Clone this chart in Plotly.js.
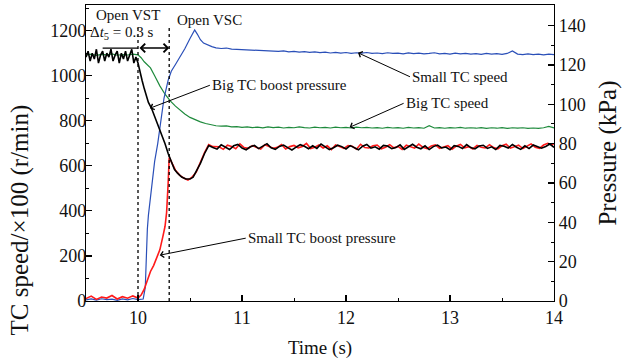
<!DOCTYPE html>
<html>
<head>
<meta charset="utf-8">
<script src="https://cdn.plot.ly/plotly-3.0.1.min.js"></script>
<style>html,body{margin:0;padding:0;background:#fff;}#chart{width:627px;height:364px;}</style>
</head>
<body>
<div id="chart"></div>
<script>
// [time (s), TC speed (x100 r/min)]
const smallTcSpeed = [
[9.5,5],[9.55,9],[9.6,4],[9.65,10],[9.7,6],[9.75,8],[9.8,3],[9.85,9],[9.9,5],[9.95,11],[10.0,6],[10.05,9],
[10.07,60],[10.08,250],[10.09,320],[10.1,380],[10.13,490],[10.16,620],[10.19,700],[10.22,800],[10.25,900],
[10.29,980],[10.32,1020],[10.36,1050],[10.4,1080],[10.45,1120],[10.5,1165],[10.545,1203],[10.57,1185],
[10.6,1160],[10.63,1145],[10.67,1136],[10.71,1129],
[10.75,1124],[10.8,1121],[10.85,1123],[10.9,1118],[10.95,1117],[11.0,1116],[11.05,1113],[11.1,1115],[11.15,1111],
[11.2,1112],[11.25,1109],[11.3,1111],[11.35,1108],[11.4,1110],[11.45,1106],[11.5,1108],[11.55,1105],[11.6,1107],
[11.65,1104],[11.7,1106],[11.75,1103],[11.8,1105],[11.85,1101],[11.9,1104],[11.95,1100],[12.0,1103],[12.05,1099],
[12.1,1102],[12.15,1100],[12.2,1103],[12.25,1099],[12.3,1101],[12.35,1098],[12.4,1102],[12.45,1099],[12.5,1100],
[12.55,1097],[12.6,1101],[12.65,1098],[12.7,1100],[12.75,1097],[12.8,1099],[12.85,1102],[12.9,1097],[12.95,1099],
[13.0,1096],[13.05,1100],[13.1,1097],[13.15,1099],[13.2,1096],[13.25,1098],[13.3,1095],[13.35,1099],[13.4,1096],
[13.45,1098],[13.5,1095],[13.55,1099],[13.6,1110],[13.65,1096],[13.7,1094],[13.75,1097],[13.8,1094],[13.85,1096],
[13.9,1093],[13.95,1096],[14.0,1094]
];
const bigTcSpeed = [
[9.5,1092],[9.55,1096],[9.6,1090],[9.65,1095],[9.7,1093],[9.75,1097],[9.8,1091],[9.85,1094],[9.9,1092],[9.95,1096],
[10.0,1093],[10.03,1080],[10.06,1062],[10.09,1048],[10.12,1035],[10.16,1000],[10.21,955],[10.26,918],[10.31,888],
[10.36,865],[10.4,848],[10.45,830],[10.5,815],[10.55,804],[10.6,795],[10.65,788],[10.7,782],
[10.75,778],[10.8,776],[10.85,777],[10.9,773],[10.95,774],[11.0,771],[11.05,773],[11.1,770],[11.15,772],[11.2,769],
[11.25,773],[11.3,770],[11.35,772],[11.4,768],[11.45,771],[11.5,769],[11.55,773],[11.6,770],[11.65,768],[11.7,772],
[11.75,769],[11.8,771],[11.85,768],[11.9,772],[11.95,769],[12.0,771],[12.05,768],[12.1,772],[12.15,769],[12.2,771],
[12.25,768],[12.3,770],[12.35,767],[12.4,771],[12.45,768],[12.5,770],[12.55,767],[12.6,771],[12.65,768],[12.7,770],
[12.75,767],[12.8,778],[12.85,768],[12.9,770],[12.95,767],[13.0,770],[13.05,768],[13.1,771],[13.15,767],[13.2,769],
[13.25,767],[13.3,770],[13.35,766],[13.4,769],[13.45,767],[13.5,770],[13.55,766],[13.6,769],[13.65,767],[13.7,769],
[13.75,766],[13.8,768],[13.85,766],[13.9,769],[13.95,775],[14.0,768]
];
// [time (s), boost pressure (kPa)]
const smallTcBoost = [
[9.5,1.2],[9.55,2.5],[9.6,0.8],[9.65,2.0],[9.7,1.5],[9.75,2.8],[9.8,1.0],[9.85,2.2],[9.9,1.4],[9.95,2.6],[10.0,1.5],
[10.03,3],[10.06,6],[10.09,11],[10.12,15],[10.15,18],[10.18,22],[10.21,26],[10.24,33],[10.26,38],[10.275,45],
[10.285,53],[10.29,60],[10.3,73],[10.33,70],[10.36,66.5],[10.4,64],[10.44,62.5],[10.48,61.5],[10.52,63],[10.56,65.5],
[10.6,70.5],[10.64,75.5],[10.68,79.5],[10.72,78.5],
[10.78,78.4],[10.82,77.1],[10.86,79.2],[10.9,78.6],[10.94,77.4],[10.98,79.9],[11.02,78.0],[11.06,77.6],[11.1,79.0],[11.14,78.3],
[11.18,77.2],[11.22,79.5],[11.26,78.8],[11.3,77.7],[11.34,78.1],[11.38,79.6],[11.42,77.3],[11.46,78.5],[11.5,79.1],[11.54,77.9],
[11.58,78.6],[11.62,80.1],[11.66,77.5],[11.7,78.2],[11.74,79.3],[11.78,77.8],[11.82,78.9],[11.86,77.0],[11.9,79.4],[11.94,78.4],
[11.98,77.6],[12.02,79.0],[12.06,78.7],[12.1,77.2],[12.14,79.7],[12.18,78.0],[12.22,77.8],[12.26,78.9],[12.3,79.3],[12.34,77.4],
[12.38,78.2],[12.42,79.5],[12.46,77.9],[12.5,78.6],[12.54,77.1],[12.58,79.2],[12.62,78.4],[12.66,77.7],[12.7,79.8],[12.74,78.1],
[12.78,77.5],[12.82,78.8],[12.86,79.4],[12.9,77.6],[12.94,78.3],[12.98,79.0],[13.02,77.2],[13.06,78.7],[13.1,79.6],[13.14,77.9],
[13.18,78.5],[13.22,77.3],[13.26,79.1],[13.3,78.2],[13.34,77.8],[13.38,79.5],[13.42,78.0],[13.46,77.4],[13.5,78.9],[13.54,79.7],
[13.58,77.7],[13.62,78.4],[13.66,79.2],[13.7,77.5],[13.74,78.8],[13.78,79.9],[13.82,78.1],[13.86,77.6],[13.9,79.3],[13.94,80.2],
[13.98,79.4],[14.0,80.0]
];
const bigTcBoost = [
[9.5,124],[9.52,127],[9.54,122],[9.56,126],[9.58,123],[9.6,128],[9.62,121],[9.64,125],[9.66,127],[9.68,122],[9.7,126],
[9.72,124],[9.74,128],[9.76,122],[9.78,125],[9.8,127],[9.82,121],[9.84,126],[9.86,123],[9.88,127],[9.9,122],[9.92,125],
[9.94,128],[9.96,121],[9.98,124],
[10.0,121],[10.02,116],[10.04,112],[10.06,108],[10.08,104],[10.1,101],[10.13,98],[10.16,94],[10.2,89],[10.23,85],
[10.26,80],[10.29,75],[10.32,71],[10.35,67],[10.38,65],[10.42,63],[10.46,62],[10.5,62],[10.53,63],[10.56,66],
[10.6,70],[10.64,75],[10.68,79],[10.72,78],
[10.76,77.2],[10.8,79.4],[10.84,78.1],[10.88,77.0],[10.92,78.9],[10.96,79.6],[11.0,77.8],[11.04,76.9],[11.08,78.4],[11.12,79.1],
[11.16,77.5],[11.2,78.8],[11.24,80.0],[11.28,77.9],[11.32,77.1],[11.36,78.6],[11.4,79.3],[11.44,78.0],[11.48,76.8],[11.52,78.2],
[11.56,79.5],[11.6,78.7],[11.64,77.4],[11.68,78.9],[11.72,77.6],[11.76,79.8],[11.8,78.3],[11.84,77.0],[11.88,77.9],[11.92,79.2],
[11.96,78.5],[12.0,77.3],[12.04,79.0],[12.08,78.1],[12.12,76.9],[12.16,78.7],[12.2,79.6],[12.24,77.7],[12.28,78.4],[12.32,77.2],
[12.36,79.1],[12.4,78.8],[12.44,77.5],[12.48,78.0],[12.52,79.4],[12.56,77.1],[12.6,78.6],[12.64,79.7],[12.68,78.2],[12.72,77.4],
[12.76,78.9],[12.8,77.0],[12.84,78.5],[12.88,79.3],[12.92,77.8],[12.96,78.3],[13.0,76.9],[13.04,79.0],[13.08,78.6],[13.12,77.5],
[13.16,79.5],[13.2,78.0],[13.24,77.3],[13.28,78.8],[13.32,79.2],[13.36,77.6],[13.4,78.4],[13.44,77.0],[13.48,79.1],[13.52,78.7],
[13.56,77.8],[13.6,79.6],[13.64,78.2],[13.68,77.1],[13.72,78.9],[13.76,77.5],[13.8,79.3],[13.84,78.4],[13.88,77.7],[13.92,78.6],
[13.96,79.8],[14.0,78.1]
];
const xTicks = [10, 11, 12, 13, 14];
const yLeftTicks = [0, 200, 400, 600, 800, 1000, 1200];
const yRightTicks = [0, 20, 40, 60, 80, 100, 120, 140];
const eventTimes = [10.0, 10.3];

const FONT = '"Liberation Serif", "Times New Roman", serif';
const col = a => a.map(p => p[0]);
const val = a => a.map(p => p[1]);

const traces = [
  {x: col(smallTcBoost), y: val(smallTcBoost), yaxis: 'y2', mode: 'lines', line: {color: '#ff1a1a', width: 1.6}, name: 'Small TC boost pressure'},
  {x: col(bigTcBoost), y: val(bigTcBoost), yaxis: 'y2', mode: 'lines', line: {color: '#000000', width: 1.6}, name: 'Big TC boost pressure'},
  {x: col(bigTcSpeed), y: val(bigTcSpeed), yaxis: 'y', mode: 'lines', line: {color: '#1e8a3c', width: 1.2}, name: 'Big TC speed'},
  {x: col(smallTcSpeed), y: val(smallTcSpeed), yaxis: 'y', mode: 'lines', line: {color: '#2a4fb8', width: 1.2}, name: 'Small TC speed'}
];

const shapes = eventTimes.map(t => ({type: 'line', xref: 'x', yref: 'y', x0: t, x1: t, y0: 0, y1: 1215,
  line: {color: '#000', width: 1.3, dash: 'dot'}}));
shapes.push({type: 'line', xref: 'x', yref: 'y', x0: 9.66, x1: eventTimes[0], y0: 1123, y1: 1123, line: {color: '#000', width: 1.3}});

const annFont = {family: FONT, size: 15, color: '#111'};
const annotations = [
  {x: 9.90, y: 1270, xref: 'x', yref: 'y', text: 'Open VST', showarrow: false, font: annFont},
  {x: 10.69, y: 1248, xref: 'x', yref: 'y', text: 'Open VSC', showarrow: false, font: annFont},
  {x: 9.85, y: 1190, xref: 'x', yref: 'y', text: 'Δ<i>t</i><sub>5</sub> = 0.3 s', showarrow: false, font: annFont},
  {x: eventTimes[1], y: 1123, xref: 'x', yref: 'y', ax: eventTimes[0], ay: 1123, axref: 'x', ayref: 'y', text: '',
   showarrow: true, arrowhead: 4, startarrowhead: 4, arrowside: 'end+start', arrowsize: 1.2, arrowwidth: 1.4, arrowcolor: '#000'},
  {x: 10.114, y: 98, xref: 'x', yref: 'y2', ax: 60, ay: -23, text: 'Big TC boost pressure', xanchor: 'left',
   showarrow: true, arrowhead: 4, arrowsize: 1.2, arrowwidth: 1, arrowcolor: '#000', font: annFont},
  {x: 12.115, y: 1102, xref: 'x', yref: 'y', ax: 52, ay: 24, text: 'Small TC speed', xanchor: 'left',
   showarrow: true, arrowhead: 4, arrowsize: 1.2, arrowwidth: 1, arrowcolor: '#000', font: annFont},
  {x: 12.035, y: 771, xref: 'x', yref: 'y', ax: 54, ay: -24, text: 'Big TC speed', xanchor: 'left',
   showarrow: true, arrowhead: 4, arrowsize: 1.2, arrowwidth: 1, arrowcolor: '#000', font: annFont},
  {x: 10.209, y: 23.3, xref: 'x', yref: 'y2', ax: 86, ay: -17, text: 'Small TC boost pressure', xanchor: 'left',
   showarrow: true, arrowhead: 4, arrowsize: 1.2, arrowwidth: 1, arrowcolor: '#000', font: annFont},
  // left axis title (placed lower than centre, as in the reference)
  {x: -0.141, y: 0.272, xref: 'paper', yref: 'paper', text: 'TC speed/×100 (r/min)', textangle: -90, showarrow: false,
   xanchor: 'center', yanchor: 'middle', font: {family: FONT, size: 25, color: '#111'}}
];

const tickFont = {family: FONT, size: 18, color: '#111'};
const axCommon = {showgrid: false, zeroline: false, showline: true, linecolor: '#000', linewidth: 1.2,
  ticks: 'inside', ticklen: 6, tickwidth: 1.2, tickcolor: '#000', tickfont: tickFont};

const layout = {
  width: 627, height: 364,
  margin: {l: 86, r: 73, t: 5, b: 63},
  paper_bgcolor: '#fff', plot_bgcolor: '#fff',
  showlegend: false,
  xaxis: Object.assign({}, axCommon, {range: [9.5, 14], tickvals: xTicks, mirror: true,
    minor: {dtick: 0.5, tick0: 9.5, ticks: 'inside', ticklen: 3, tickcolor: '#000', tickwidth: 1},
    title: {text: 'Time (s)', font: {family: FONT, size: 19, color: '#111'}, standoff: 14}}),
  yaxis: Object.assign({}, axCommon, {range: [0, 1314], tickvals: yLeftTicks, ticklabelstandoff: -5,
    minor: {dtick: 100, tick0: 0, ticks: 'inside', ticklen: 3, tickcolor: '#000', tickwidth: 1}}),
  yaxis2: Object.assign({}, axCommon, {range: [0, 150.5], tickvals: yRightTicks, overlaying: 'y', side: 'right',
    minor: {dtick: 10, tick0: 0, ticks: 'inside', ticklen: 3, tickcolor: '#000', tickwidth: 1},
    title: {text: 'Pressure (kPa)', font: {family: FONT, size: 25, color: '#111'}, standoff: 13}}),
  shapes: shapes,
  annotations: annotations
};

Plotly.newPlot('chart', traces, layout, {displayModeBar: false, staticPlot: true});
</script>
</body>
</html>
